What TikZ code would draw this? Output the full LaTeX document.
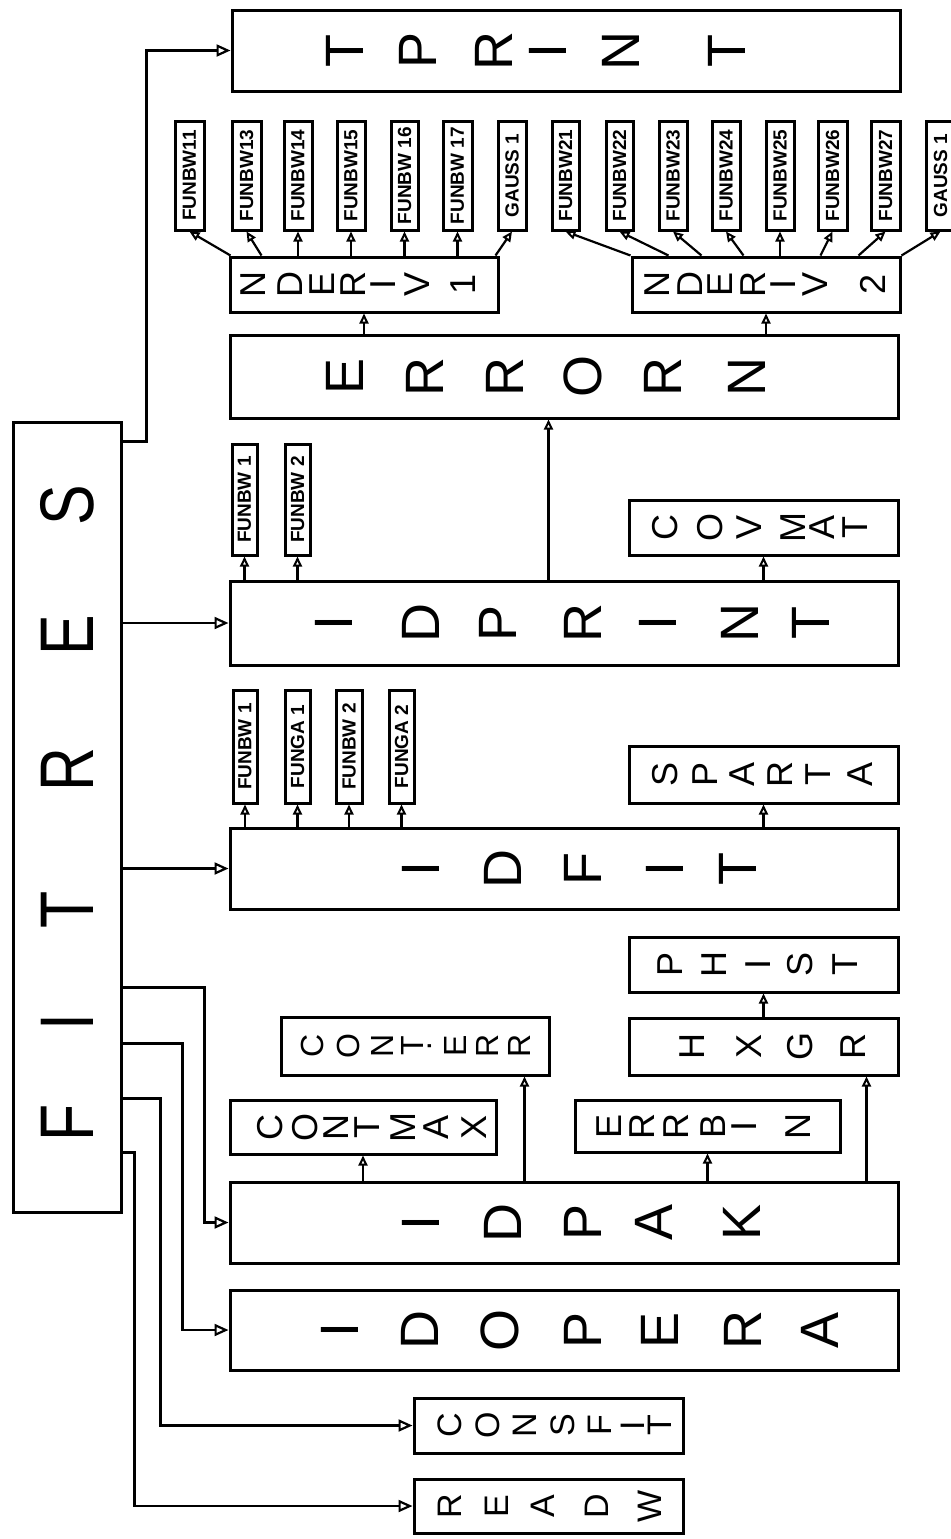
\documentclass[tikz,border=0pt]{standalone}
\usepackage{fontspec}
\setmainfont{Liberation Sans}
\usetikzlibrary{arrows.meta,calc}
\newcommand{\mkbox}[5]{\node[box, minimum width={(#4-#2)*0.5pt}, minimum height={(#5-#3)*0.5pt}] (#1) at ({(#2+#4)/2},{(#3+#5)/2}) {};}
\newcommand{\lbox}[6]{\node[box, font=\labfont, minimum width={(#4-#2)*0.5pt}, minimum height={(#5-#3)*0.5pt}] (#1) at ({(#2+#4)/2},{(#3+#5)/2}) {\rotatebox{90}{#6}};}
\newcommand{\spell}[4]{\foreach \ch/\xx [count=\ii] in {#4}{\node[#3] (#1-\ii) at (\xx,#2) {\ch};}}
\newcommand{\labfont}{\bfseries\fontsize{9.5}{9.5}\selectfont}
\begin{document}
\begin{tikzpicture}[x=0.5pt,y=-0.5pt,
  box/.style={draw, line width=1.5pt, inner sep=0pt},
  conn/.style={line width=1.1pt},
  arr/.style={conn, -{Triangle[open,length=7pt,width=6pt,line width=1.1pt]}},
  sarr/.style={conn, -{Triangle[open,length=5pt,width=4.5pt,line width=1pt]}},
  lt/.style={rotate=90, inner sep=0pt},
  bigl/.style={lt, font=\fontsize{27}{27}\selectfont},
  midl/.style={lt, font=\fontsize{18}{18}\selectfont},
  sml/.style={lt, font=\fontsize{16}{16}\selectfont},
  ndl/.style={lt, font=\fontsize{18}{18}\selectfont},
  cfl/.style={lt, font=\fontsize{17}{17}\selectfont},
  fitl/.style={lt, font=\fontsize{38}{38}\selectfont}]
\path[use as bounding box] (0,0) rectangle (950,1539);

% main boxes
\mkbox{fitres}{13}{422}{121}{1212}
\mkbox{tprint}{232}{10}{900}{91}
\mkbox{nderiv1}{230}{257}{498}{312}
\mkbox{nderiv2}{632}{257}{900}{312}
\mkbox{errorn}{230}{335}{898}{418}
\mkbox{covmat}{629}{500}{898}{555}
\mkbox{idprint}{230}{581}{898}{665}
\mkbox{sparta}{629}{746}{898}{803}
\mkbox{idfit}{230}{828}{898}{909}
\mkbox{phist}{629}{937}{898}{992}
\mkbox{conterr}{281}{1017}{549}{1075}
\mkbox{hxgr}{629}{1018}{898}{1075}
\mkbox{contmax}{230}{1100}{496}{1154}
\mkbox{errbin}{575}{1100}{840}{1152}
\mkbox{idpak}{230}{1182}{898}{1263}
\mkbox{idopera}{230}{1290}{898}{1370}
\mkbox{consfit}{414}{1398}{683}{1453}
\mkbox{readw}{414}{1479}{683}{1533}

% letters
\foreach \ch/\yy [count=\ii] in {F/1123,I/1022,T/910,R/770,E/635,S/505}
  {\node[fitl] (fitres-\ii) at (67,\yy) {\scalebox{0.8}[1]{\ch}};}
\spell{tprint}{50.5}{bigl}{T/345,P/418,R/494,I/548,N/621,T/727}
\spell{nderiv1}{284.5}{ndl}{N/253,D/290,E/322,R/353,I/383,V/417,1/463}
\spell{nderiv2}{284.5}{ndl}{N/657,D/690,E/720,R/753,I/783,V/815,2/873}
\spell{errorn}{376.5}{bigl}{E/345,R/425,R/505,O/583,R/663,N/747}
\spell{covmat}{527.5}{midl}{C/665,O/710,V/749,M/793,A/822,T/855}
\spell{idprint}{623}{bigl}{I/334,D/421,P/498,R/583,I/658,N/740,T/811}
\spell{sparta}{774.5}{midl}{S/665,P/705,A/742,R/780,T/818,A/860}
\spell{idfit}{868.5}{bigl}{I/421,D/503,F/583,I/665,T/738}
\spell{phist}{964.5}{midl}{P/670,H/714,I/758,S/800,T/845}
\spell{hxgr}{1046.5}{midl}{H/692,X/749,G/800,R/853}
\spell{conterr}{1046}{sml}{C/312,O/348,N/382,T/412,·/433,E/455,R/487,R/519}
\spell{contmax}{1127}{midl}{C/270,O/305,N/336,T/367,M/403,A/436,X/474}
\spell{errbin}{1126}{midl}{E/609,R/642,R/676,B/713,I/744,N/798}
\spell{idpak}{1222.5}{bigl}{I/421,D/503,P/583,A/654,K/742}
\spell{idopera}{1330}{bigl}{I/340,D/420,O/500,P/583,E/660,R/743,A/820}
\spell{consfit}{1425.5}{cfl}{C/450,O/488,N/525,S/563,F/600,I/633,T/660}
\spell{readw}{1506}{cfl}{R/450,E/497,A/543,D/597,W/650}

% small boxes
\lbox{b11}{175}{121}{204}{230}{FUNBW11}
\lbox{b13}{232}{121}{261}{230}{FUNBW13}
\lbox{b14}{284}{121}{312}{230}{FUNBW14}
\lbox{b15}{337}{121}{365}{230}{FUNBW15}
\lbox{b16}{391}{121}{418}{230}{FUNBW 16}
\lbox{b17}{443}{121}{472}{230}{FUNBW 17}
\lbox{g1}{498}{121}{526}{230}{GAUSS 1}
\lbox{b21}{552}{121}{579}{230}{FUNBW21}
\lbox{b22}{606}{121}{633}{230}{FUNBW22}
\lbox{b23}{659}{121}{687}{230}{FUNBW23}
\lbox{b24}{712}{121}{740}{230}{FUNBW24}
\lbox{b25}{766}{121}{794}{230}{FUNBW25}
\lbox{b26}{818}{121}{847}{230}{FUNBW26}
\lbox{b27}{871}{121}{900}{230}{FUNBW27}
\lbox{g2}{926}{121}{955}{230}{GAUSS 1}
\lbox{p1}{232}{444}{257}{555}{FUNBW 1}
\lbox{p2}{285}{444}{310}{555}{FUNBW 2}
\lbox{f1}{233}{690}{257}{803}{FUNBW 1}
\lbox{f2}{285}{690}{310}{803}{FUNGA 1}
\lbox{f3}{336}{690}{362}{803}{FUNBW 2}
\lbox{f4}{389}{690}{414}{803}{FUNGA 2}

% FITRES connectors
\draw[arr] ($(fitres.north east)+(0,21)$) -| ($(tprint.west)+(-84,0)$) -- (tprint.west);
\draw[arr] (fitres.east |- idprint.west) -- (idprint.west);
\draw[arr] (fitres.east |- idfit.west) -- (idfit.west);
\draw[arr] ($(fitres.north east)+(0,567)$) -| ($(idpak.west)+(-24,0)$) -- (idpak.west);
\draw[arr] ($(fitres.north east)+(0,623)$) -| ($(idopera.west)+(-46,0)$) -- (idopera.west);
\draw[arr] ($(fitres.north east)+(0,678)$) -| ($(consfit.west)+(-252,0)$) -- (consfit.west);
\draw[arr] ($(fitres.north east)+(0,732)$) -| ($(readw.west)+(-278,0)$) -- (readw.west);

% NDERIV1 children
\draw[sarr] ($(nderiv1.north west)+(2,0)$) -- (b11.south);
\draw[sarr] ($(nderiv1.north west)+(33,0)$) -- (b13.south);
\foreach \b in {b14,b15,b16,b17}{\draw[sarr] (\b.south |- nderiv1.north) -- (\b.south);}
\draw[sarr] ($(nderiv1.north west)+(267,0)$) -- (g1.south);
% NDERIV2 children
\draw[sarr] (nderiv2.north west) -- (b21.south);
\draw[sarr] ($(nderiv2.north west)+(38,0)$) -- (b22.south);
\draw[sarr] ($(nderiv2.north west)+(71,0)$) -- (b23.south);
\draw[sarr] ($(nderiv2.north west)+(113,0)$) -- (b24.south);
\draw[sarr] (b25.south |- nderiv2.north) -- (b25.south);
\draw[sarr] ($(nderiv2.north west)+(190,0)$) -- (b26.south);
\draw[sarr] ($(nderiv2.north west)+(228,0)$) -- (b27.south);
\draw[sarr] (nderiv2.north east) -- (g2.south);

% ERRORN
\draw[sarr] (nderiv1.south |- errorn.north) -- (nderiv1.south);
\draw[sarr] (nderiv2.south |- errorn.north) -- (nderiv2.south);
% IDPRINT
\draw[sarr] ($(idprint.north west)+(320,0)$) -- ($(errorn.south west)+(320,0)$);
\foreach \b in {p1,p2,covmat}{\draw[sarr] (\b.south |- idprint.north) -- (\b.south);}
% IDFIT
\foreach \b in {f1,f2,f3,f4,sparta}{\draw[sarr] (\b.south |- idfit.north) -- (\b.south);}
% IDPAK
\coordinate (ceA) at ($(conterr.south east)+(-26,0)$);
\coordinate (hxA) at ($(hxgr.south east)+(-33,0)$);
\draw[sarr] (contmax.south |- idpak.north) -- (contmax.south);
\draw[sarr] (idpak.north -| ceA) -- (ceA);
\draw[sarr] (errbin.south |- idpak.north) -- (errbin.south);
\draw[sarr] (idpak.north -| hxA) -- (hxA);
\draw[sarr] (phist.south |- hxgr.north) -- (phist.south);
\end{tikzpicture}
\end{document}
